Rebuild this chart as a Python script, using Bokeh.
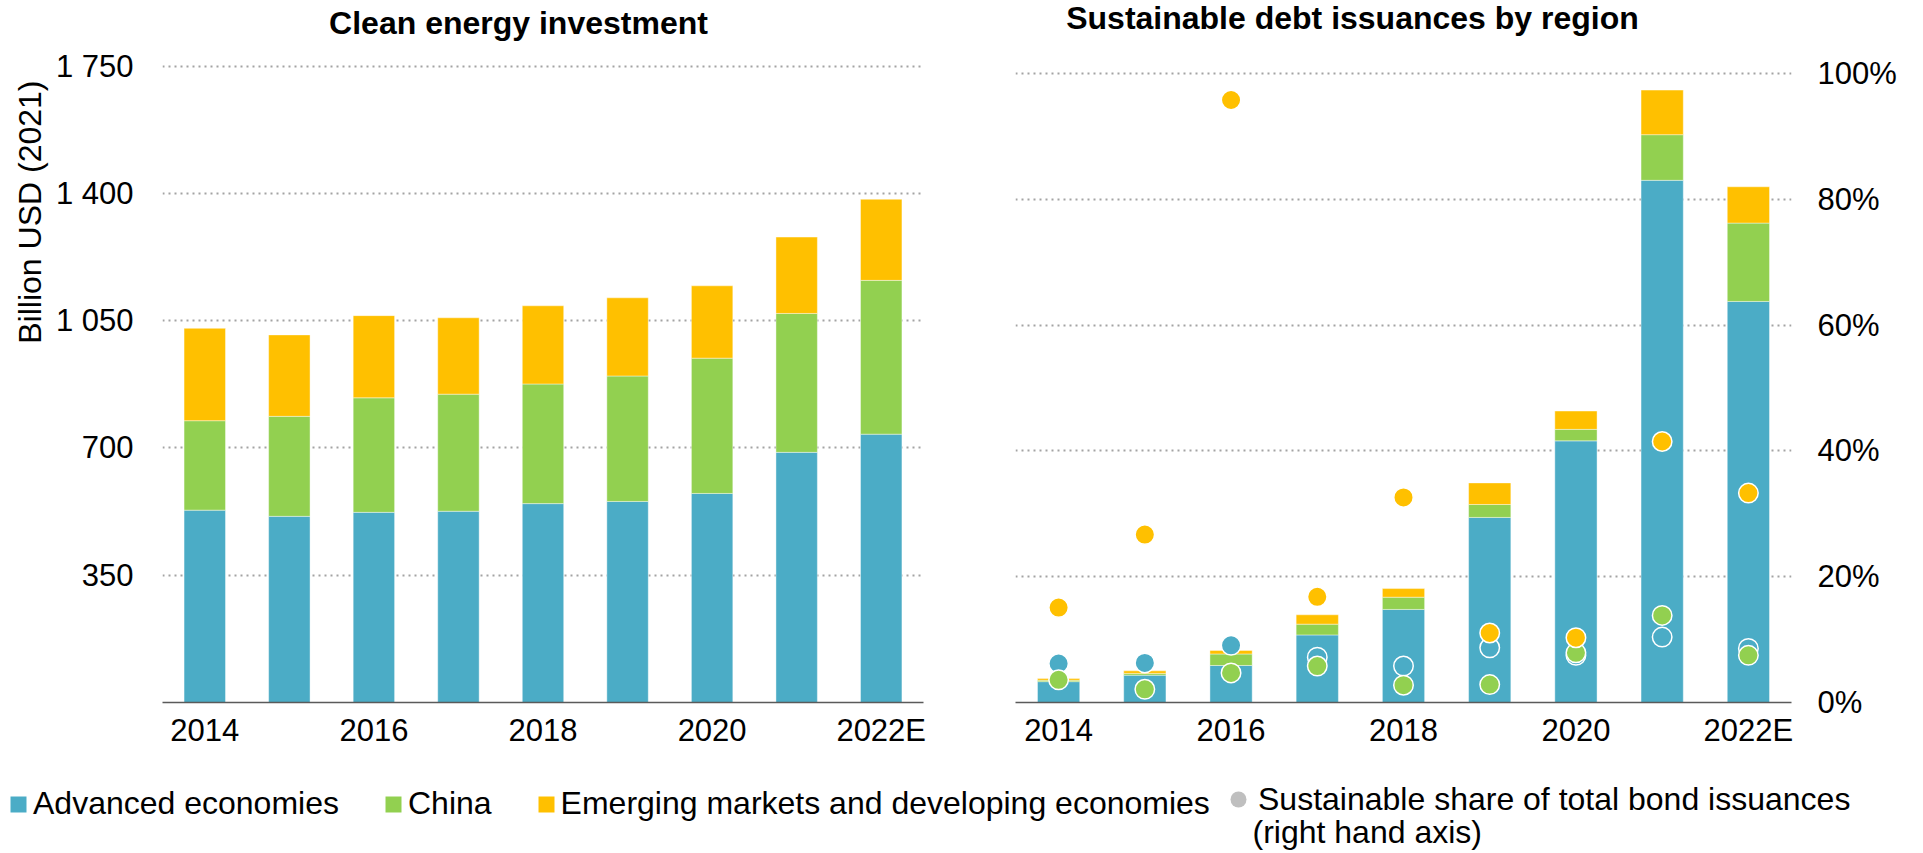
from bokeh.plotting import figure
from bokeh.models import (Range1d, FixedTicker, Label, Legend, LegendItem, Title,
                          ColumnDataSource)
from bokeh.layouts import row, column
from bokeh.embed import file_html
from bokeh.resources import INLINE

# ---------------- data ----------------
years = ["2014", "2015", "2016", "2017", "2018", "2019", "2020", "2021", "2022E"]
x_tick_labels = ["2014", "", "2016", "", "2018", "", "2020", "", "2022E"]

# Clean energy investment, billion USD (2021)
inv_advanced = [529, 512, 523, 526, 547, 553, 575, 688, 738]
inv_china = [246, 275, 315, 322, 329, 345, 372, 382, 423]
inv_emde = [254, 224, 226, 210, 215, 215, 199, 210, 223]

left_ticks = [350, 700, 1050, 1400, 1750]
left_tick_labels = ["350", "700", "1 050", "1 400", "1 750"]

# Sustainable debt issuances by region, billion USD (unlabelled scale)
debt_advanced = [58, 76, 103, 188, 259, 515, 728, 1453, 1116]
debt_china = [4, 5, 32, 30, 34, 36, 32, 127, 218]
debt_emde = [5, 7, 10, 26, 24, 60, 51, 124, 101]

# Sustainable share of total bond issuances (%), right hand axis
share_advanced = [6.2, 6.3, 9.1, 7.2, 5.8, 8.7, 7.5, 10.4, 8.6]
share_china = [3.6, 2.1, 4.7, 5.8, 2.75, 2.85, 7.9, 13.85, 7.5]
share_emde = [15.1, 26.7, 95.8, 16.8, 32.6, 11.05, 10.3, 41.5, 33.3]

right_ticks = [0, 20, 40, 60, 80, 100]
right_tick_labels = ["0%", "20%", "40%", "60%", "80%", "100%"]

titles = ["Clean energy investment", "Sustainable debt issuances by region"]
y_title = "Billion USD (2021)"
legend_labels = ["Advanced economies", "China", "Emerging markets and developing economies",
                 "Sustainable share of total bond issuances", "(right hand axis)"]

# ---------------- style ----------------
FONT = "Liberation Sans"
BLUE, GREEN, YELLOW, GREY = "#4BACC6", "#92D050", "#FFC000", "#BFBFBF"
GRID = "#a3a3a3"
AXIS = "#5a5a5a"

idx = list(range(len(years)))
x_lab_ticks = [i for i, t in zip(idx, x_tick_labels) if t]
x_lab_over = {i: t for i, t in zip(idx, x_tick_labels) if t}


def style_x(p):
    p.xaxis.ticker = FixedTicker(ticks=x_lab_ticks)
    p.xaxis.major_label_overrides = x_lab_over
    p.xaxis.axis_line_color = AXIS
    p.xaxis.axis_line_width = 1.5
    p.xaxis.major_tick_line_color = None
    p.xaxis.major_tick_out = 0
    p.xaxis.major_tick_in = 0
    p.xaxis.minor_tick_line_color = None
    p.xaxis.major_label_text_font = FONT
    p.xaxis.major_label_text_font_size = "31px"
    p.xaxis.major_label_text_color = "black"
    p.xaxis.major_label_standoff = 10
    p.xgrid.grid_line_color = None


def style_y(p, ticks, labels, standoff):
    p.yaxis.ticker = FixedTicker(ticks=ticks)
    p.yaxis.major_label_overrides = dict(zip(ticks, labels))
    p.yaxis.axis_line_color = None
    p.yaxis.major_tick_line_color = None
    p.yaxis.major_tick_out = 0
    p.yaxis.major_tick_in = 0
    p.yaxis.minor_tick_line_color = None
    p.yaxis.major_label_text_font = FONT
    p.yaxis.major_label_text_font_size = "31px"
    p.yaxis.major_label_text_color = "black"
    p.yaxis.major_label_standoff = standoff
    p.ygrid.ticker = FixedTicker(ticks=[t for t in ticks if t > 0])
    p.ygrid.grid_line_color = GRID
    p.ygrid.grid_line_dash = "2 4"
    p.ygrid.grid_line_width = 2


# ---------------- left chart ----------------
# frame: 636 px for 1750 units, extended upward to hold the title
left_end = 1750 * 702 / 636.3
src1 = ColumnDataSource(dict(x=idx, adv=inv_advanced, china=inv_china, emde=inv_emde))
p1 = figure(x_range=Range1d(-0.5, len(years) - 0.5), y_range=Range1d(0, left_end),
            width=968, height=768, output_backend="svg", toolbar_location=None,
            outline_line_color=None,
            min_border_left=162, min_border_right=45, min_border_top=0, min_border_bottom=66)
p1.vbar_stack(["adv", "china", "emde"], x="x", width=0.49, source=src1,
              fill_color=[BLUE, GREEN, YELLOW], line_color="white", line_width=0.6, line_alpha=0.7)
style_x(p1)
style_y(p1, left_ticks, left_tick_labels, 29)

p1.add_layout(Label(x=356, y=679.5, x_units="screen", y_units="screen", text=titles[0],
                    text_align="center", text_baseline="middle", text_font=FONT,
                    text_font_size="32px", text_font_style="bold", text_color="black"))
p1.add_layout(Title(text=y_title, align="right", offset=80, text_font=FONT,
                    text_font_size="32px", text_font_style="normal", text_color="black"),
              "left")

# ---------------- right chart ----------------
pct_end = 100 * 707 / 633.4
src2 = ColumnDataSource(dict(x=idx, adv=debt_advanced, china=debt_china, emde=debt_emde,
                             s_adv=share_advanced, s_china=share_china, s_emde=share_emde))
p2 = figure(x_range=Range1d(-0.5, len(years) - 0.5), y_range=Range1d(0, pct_end),
            y_axis_location="right", width=939, height=768, output_backend="svg",
            toolbar_location=None, outline_line_color=None,
            min_border_left=47, min_border_right=116, min_border_top=0, min_border_bottom=61)
p2.extra_y_ranges = {"usd": Range1d(0, 1750 * pct_end / 100)}
p2.vbar_stack(["adv", "china", "emde"], x="x", width=0.49, source=src2, y_range_name="usd",
              fill_color=[BLUE, GREEN, YELLOW], line_color="white", line_width=0.6, line_alpha=0.7)
for col, c in (("s_adv", BLUE), ("s_china", GREEN), ("s_emde", YELLOW)):
    p2.scatter(x="x", y=col, source=src2, marker="circle", size=19.5,
               fill_color=c, line_color="white", line_width=1.5)
style_x(p2)
style_y(p2, right_ticks, right_tick_labels, 26)

p2.add_layout(Label(x=337, y=684.5, x_units="screen", y_units="screen", text=titles[1],
                    text_align="center", text_baseline="middle", text_font=FONT,
                    text_font_size="32px", text_font_style="bold", text_color="black"))

# ---------------- legend ----------------
pl = figure(width=1907, height=84, x_range=Range1d(0, 1), y_range=Range1d(0, 1),
            x_axis_type=None, y_axis_type=None, min_border=0, outline_line_color=None,
            output_backend="svg", toolbar_location=None)
r_a = pl.vbar(x=[5], top=[1], width=0.5, fill_color=BLUE, line_color=None)
r_c = pl.vbar(x=[5], top=[1], width=0.5, fill_color=GREEN, line_color=None)
r_e = pl.vbar(x=[5], top=[1], width=0.5, fill_color=YELLOW, line_color=None)
r_s = pl.scatter(x=[5], y=[0.5], marker="circle", fill_color=GREY, line_color=None)

common = dict(orientation="horizontal", padding=0, margin=0, border_line_color=None,
              background_fill_alpha=0, label_text_font=FONT, label_text_font_size="32px",
              label_text_color="black")
legA = Legend(items=[LegendItem(label=legend_labels[0], renderers=[r_a]),
                     LegendItem(label=legend_labels[1], renderers=[r_c]),
                     LegendItem(label=legend_labels[2], renderers=[r_e])],
              location=(8, 30), glyph_width=20, glyph_height=20, label_standoff=5,
              spacing=44, **common)
legB = Legend(items=[LegendItem(label=legend_labels[3], renderers=[r_s])],
              location=(1218, 33), glyph_width=40, glyph_height=40, label_standoff=-7,
              **common)
pl.add_layout(legA)
pl.add_layout(legB)
pl.add_layout(Label(x=1252, y=21, x_units="screen", y_units="screen", text=legend_labels[4],
                    text_baseline="middle", text_font=FONT, text_font_size="32px",
                    text_color="black"))

layout = column(row(p1, p2), pl)
open("out.html", "w").write(file_html(layout, INLINE))
